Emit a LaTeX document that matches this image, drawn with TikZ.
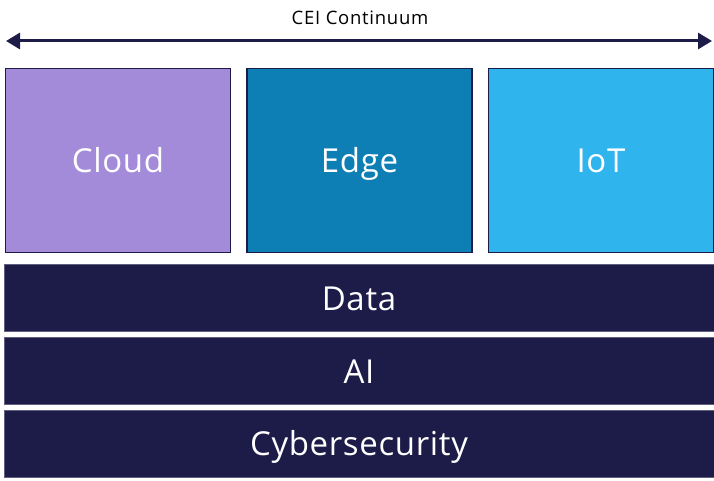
\documentclass[tikz,border=0pt]{standalone}
\usepackage{fontspec}
\setmainfont{Open Sans}
\usetikzlibrary{arrows.meta}
\definecolor{navy}{HTML}{1D1B48}
\definecolor{cloudc}{HTML}{A38BDA}
\definecolor{edgec}{HTML}{0E7FB5}
\definecolor{iotc}{HTML}{30B4EE}
\tikzset{
  bigtext/.style={text=white, font=\fontsize{33}{40}\selectfont\addfontfeatures{LetterSpace=2}, text height=30pt, text depth=6pt},
  topbox/.style={bigtext, draw=navy, line width=1.5pt, minimum width=225pt, minimum height=184pt, inner sep=0pt},
  bar/.style={bigtext, fill=navy, draw=navy!70!white, line width=0.6pt, minimum width=710pt, minimum height=67pt, inner sep=0pt},
}
\begin{document}
\begin{tikzpicture}[x=1pt,y=-1pt]
\useasboundingbox (0,0) rectangle (714,481);
\node[font=\fontsize{18.5}{22}\selectfont\addfontfeatures{LetterSpace=4}] (lbl) at (360,18) {CEI Continuum};
\coordinate (L) at (6,41);
\coordinate (R) at (712,41);
\draw[navy, line width=3pt, {Triangle[length=14pt,width=16pt]}-{Triangle[length=14pt,width=16pt]}] (L) -- (R);
\node[topbox, fill=cloudc] (cloud) at (118,160.5) {Cloud};
\node[topbox, fill=edgec] (edge) at (359.5,160.5) {Edge};
\node[topbox, fill=iotc] (iot) at (601,160.5) {IoT};
\node[bar] (data) at (359,298) {Data};
\node[bar] (ai) at (359,371) {AI};
\node[bar] (cyber) at (359,443.5) {Cybersecurity};
\end{tikzpicture}
\end{document}
